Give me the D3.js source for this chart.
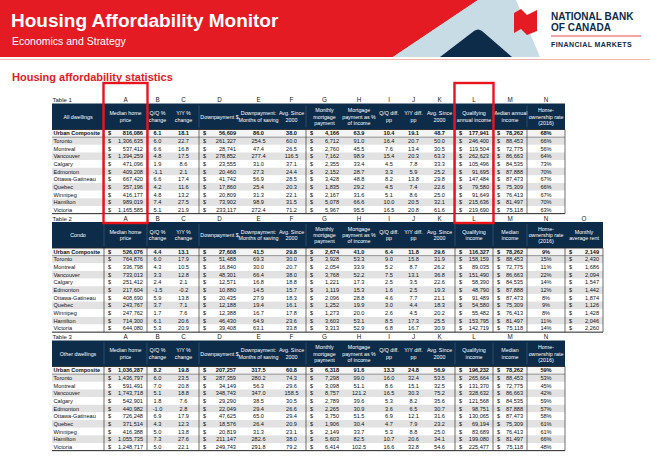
<!DOCTYPE html>
<html><head><meta charset="utf-8">
<script src="https://cdn.jsdelivr.net/npm/d3@7"></script>
<style>
body{margin:0;background:#fff;}
svg{display:block;font-family:"Liberation Sans",Arial,sans-serif;}
</style>
</head><body>
<script>
// ---------- DATA ----------
const cities = ["Urban Composite","Toronto","Montreal","Vancouver","Calgary","Edmonton","Ottawa-Gatineau","Quebec","Winnipeg","Hamilton","Victoria"];
const colLetters = ["A","B","C","D","E","F","G","H","I","J","K","L","M","N","O"];
const tableTitles = ["Table 1","Table 2","Table 3"];
const tableNames = ["All dwellings","Condo","Other dwellings"];
const headA = ["Median home","price"];
const headB = ["Q/Q %","change"];
const headC = ["Y/Y %","change"];
const headD = ["Downpayment $"];
const headE = ["Downpayment:","Months of saving"];
const headF = ["Avg. Since","2000"];
const headG = ["Monthly","mortgage","payment"];
const headH = ["Mortgage","payment as %","of income"];
const headI = ["Q/Q diff.","pp"];
const headJ = ["Y/Y diff.","pp"];
const headK = ["Avg. Since","2000"];
const headL1 = ["Qualifying","annual income"];
const headL = ["Qualifying","income"];
const headM1 = ["Median annual","income"];
const headM = ["Median","income"];
const headN = ["Home-","ownership rate","(2016)"];
const headO = ["Monthly","average rent"];

// Table 1 – all dwellings
const allPrice = [816086,1306635,537412,1394259,471096,409208,667420,357196,416177,989019,1165585];
const allQQ = [6.1,6.0,6.6,4.8,1.9,-1.1,6.6,4.2,4.8,7.4,5.1];
const allYY = [18.1,22.7,16.8,17.5,8.6,2.1,17.4,11.6,13.2,27.5,21.9];
const allDown = [56609,261327,28741,278852,23555,20460,41742,17860,20809,73902,233117];
const allMonths = [86.0,254.5,47.4,277.4,31.0,27.3,56.9,25.4,31.3,98.9,272.4];
const allMonthsAvg = [38.0,60.0,26.5,116.5,37.1,24.4,28.5,20.3,22.1,31.5,71.2];
const allPay = [4166,6712,2760,7162,2355,2152,3428,1835,2167,5078,5967];
const allShare = [63.9,91.0,45.5,98.9,33.4,28.7,48.8,29.2,31.6,66.6,95.5];
const allQQpp = [10.4,16.4,7.6,15.4,4.5,3.3,8.2,4.5,5.1,10.0,16.5];
const allYYpp = [19.1,20.7,13.4,20.3,7.8,5.9,13.8,7.4,8.6,20.5,20.8];
const allShareAvg = [48.7,50.0,30.5,63.3,33.3,25.2,29.8,22.6,25.0,32.1,61.6];
const allQualInc = [177941,246400,119504,262623,105496,91695,147484,79580,91649,215636,219690];
const allInc = [78262,88453,72775,86663,84535,87888,87473,75309,76413,81497,75118];
const allOwn = [68,66,56,64,73,70,67,66,67,70,63];

// Table 2 – condo
const condoPrice = [526076,764876,336798,733013,251412,217604,408690,243767,247762,714300,644080];
const condoQQ = [4.4,6.0,4.3,3.3,2.4,-1.5,5.9,3.7,1.7,6.1,5.3];
const condoYY = [13.1,17.9,10.5,12.8,2.1,-0.2,13.8,7.1,7.6,20.6,20.9];
const condoDown = [27608,51488,16840,48301,12571,10880,20435,12188,12388,46430,39408];
const condoMonths = [41.5,69.3,30.0,66.4,16.8,14.5,27.9,19.4,16.7,64.9,63.1];
const condoMonthsAvg = [29.8,30.0,20.7,38.0,18.8,15.7,18.3,16.1,17.8,23.6,33.8];
const condoPay = [2674,3928,2054,3768,1221,1119,2096,1252,1273,3603,3313];
const condoShare = [41.0,53.3,33.9,52.2,17.3,15.3,28.8,19.9,20.0,53.1,52.9];
const condoQQpp = [6.4,9.0,5.2,7.5,2.5,1.6,4.6,3.0,2.6,8.5,6.8];
const condoYYpp = [11.8,15.8,8.7,13.1,3.5,2.5,7.7,4.4,4.5,17.3,16.7];
const condoShareAvg = [29.6,31.9,26.2,36.8,22.6,19.3,21.1,18.3,20.2,25.5,30.9];
const condoQualInc = [116327,158159,89035,151490,58390,48790,91489,54580,55482,153795,142719];
const condoInc = [78262,88453,72775,86663,84535,87888,87473,75309,76413,81497,75118];
const condoOwn = [9,15,11,22,14,12,8,9,8,11,14];
const condoRent = [2149,2430,1686,2094,1547,1442,1874,1126,1428,2046,2260];

// Table 3 – other dwellings
const otherPrice = [1036287,1436797,591491,1743718,542901,440982,726248,371514,416388,1055735,1248717];
const otherQQ = [8.2,6.0,7.0,5.1,1.8,-1.0,6.9,4.3,5.0,7.3,5.0];
const otherYY = [19.8,23.5,20.8,18.8,7.6,2.8,17.9,12.3,13.8,27.6,22.1];
const otherDown = [207257,287359,34149,348743,29290,22049,47625,18576,20819,211147,249743];
const otherMonths = [317.5,280.2,56.3,347.0,38.5,29.4,65.0,26.4,31.3,282.6,291.8];
const otherMonthsAvg = [60.8,74.3,29.6,158.5,30.5,26.6,29.4,20.9,23.1,38.0,79.2];
const otherPay = [6318,7298,3098,8757,2789,2265,3750,1906,2149,5603,6414];
const otherShare = [91.6,99.0,51.1,121.2,39.6,30.9,51.5,30.4,33.7,82.5,102.5];
const otherQQpp = [13.3,16.0,8.6,16.5,5.3,3.6,6.9,4.7,5.3,10.7,16.6];
const otherYYpp = [24.8,32.4,15.1,30.3,8.2,6.5,12.1,7.9,8.8,20.6,32.8];
const otherShareAvg = [56.9,53.5,32.5,75.2,35.6,30.7,31.6,23.2,25.0,34.1,54.6];
const otherQualInc = [196232,265664,131370,328632,121568,98751,130065,69194,83689,199080,225477];
const otherInc = [78262,88453,72775,86663,84535,87888,87473,75309,76413,81497,75118];
const otherOwn = [59,53,45,42,59,57,58,61,61,66,48];

// ---------- LAYOUT ----------
const W = 650, H = 459;
const RED = "#e41b23", NAVY = "#0d2c4a", LBLUE = "#c8dce6";
const loc = d3.formatLocale({decimal:".",thousands:",",grouping:[3],currency:["$",""],minus:"-"});
const fInt = loc.format(","), fDec = loc.format(".1f");
const fPct = v => v + "%";

const svg = d3.select("body").append("svg").attr("width",W).attr("height",H);
svg.append("rect").attr("width",W).attr("height",H).attr("fill","#fff");

// Banner
svg.append("polygon").attr("points","0,0 478,0 393,57 0,57").attr("fill",RED);
svg.append("polygon").attr("points","478,0 516,0 540,57 393,57").attr("fill",LBLUE);
svg.append("path").attr("d","M440,57 L474,31 Q478,28 482,31 L512,57 Z").attr("fill",NAVY);
svg.append("line").attr("x1",0).attr("x2",W).attr("y1",59.5).attr("y2",59.5).attr("stroke","#f3b3b3").attr("stroke-width",1);
svg.append("text").attr("x",11).attr("y",27).attr("fill","#fff").attr("font-size",19).attr("font-weight","bold").text("Housing Affordability Monitor");
svg.append("text").attr("x",12).attr("y",45).attr("fill","#fff").attr("font-size",10.5).text("Economics and Strategy");
// logo
svg.append("path").attr("d","M514,13 L521,9 L527,15 L537,10 L537,31 L527,35 L521,29 L514,33 Z").attr("fill",RED);
svg.append("text").attr("x",551).attr("y",20).attr("fill",NAVY).attr("font-size",10).attr("font-weight","bold").text("NATIONAL BANK");
svg.append("text").attr("x",551).attr("y",31).attr("fill",NAVY).attr("font-size",10).attr("font-weight","bold").text("OF CANADA");
svg.append("line").attr("x1",551).attr("x2",641).attr("y1",36).attr("y2",36).attr("stroke",RED).attr("stroke-width",0.8);
svg.append("text").attr("x",551).attr("y",47).attr("fill",NAVY).attr("font-size",7).attr("font-weight","bold").attr("letter-spacing",0.4).text("FINANCIAL MARKETS");

svg.append("text").attr("x",12).attr("y",81).attr("fill",RED).attr("font-size",11).attr("font-weight","bold").text("Housing affordability statistics");

// columns
const colKeys = ["label"].concat(colLetters);
const colEdges = [52,104,147,168,199,240,277,306,343,375,403,424,455,493,527,565,603];
const xL = d3.scaleOrdinal(colKeys, colEdges.slice(0,-1));
const xR = d3.scaleOrdinal(colKeys, colEdges.slice(1));
const xC = k => (xL(k)+xR(k))/2;
const dollarCols = new Set(["A","D","G","L","M","O"]);
const intCols = new Set(["A","D","G","L","M","O"]);
const bodyLines = ["A","B","D","G","L","M","N"];

const tables = [
  {title:tableTitles[0], name:tableNames[0], labelY:100,
   heads:[headA,headB,headC,headD,headE,headF,headG,headH,headI,headJ,headK,headL1,headM1,headN],
   series:[allPrice,allQQ,allYY,allDown,allMonths,allMonthsAvg,allPay,allShare,allQQpp,allYYpp,allShareAvg,allQualInc,allInc,allOwn]},
  {title:tableTitles[1], name:tableNames[1], labelY:218.5,
   heads:[headA,headB,headC,headD,headE,headF,headG,headH,headI,headJ,headK,headL,headM,headN,headO],
   series:[condoPrice,condoQQ,condoYY,condoDown,condoMonths,condoMonthsAvg,condoPay,condoShare,condoQQpp,condoYYpp,condoShareAvg,condoQualInc,condoInc,condoOwn,condoRent]},
  {title:tableTitles[2], name:tableNames[2], labelY:337,
   heads:[headA,headB,headC,headD,headE,headF,headG,headH,headI,headJ,headK,headL,headM,headN],
   series:[otherPrice,otherQQ,otherYY,otherDown,otherMonths,otherMonthsAvg,otherPay,otherShare,otherQQpp,otherYYpp,otherShareAvg,otherQualInc,otherInc,otherOwn]}
];

const rowH = 7.65, hdrH = 26;
tables.forEach(t => {
  const g = svg.append("g");
  const keys = colLetters.slice(0, t.series.length);
  const x0 = colEdges[0], x1 = xR(keys[keys.length-1]);
  const headTop = t.labelY + 3.5, bodyTop = headTop + hdrH;
  const y = d3.scaleBand().domain(cities).range([bodyTop, bodyTop + rowH*cities.length]);

  g.append("text").attr("x",x0+0.5).attr("y",t.labelY+2.2).attr("font-size",6).attr("fill","#222").text(t.title);
  g.selectAll("text.letter").data(keys).join("text").attr("class","letter")
    .attr("x",d=>xC(d)).attr("y",t.labelY+2.2).attr("text-anchor","middle").attr("font-size",6.3).attr("fill","#222").text(d=>d);

  g.append("rect").attr("x",x0).attr("y",headTop).attr("width",x1-x0).attr("height",hdrH).attr("fill",NAVY);
  const heads = [["label",[t.name]]].concat(keys.map((k,i)=>[k,t.heads[i]]));
  heads.forEach(([k,lines]) => {
    const lh = 6.4, cy = headTop + hdrH/2 - (lines.length-1)*lh/2 + 2;
    const tx = g.append("text").attr("text-anchor","middle").attr("font-size",5.3).attr("fill","#fff");
    lines.forEach((s,j)=>tx.append("tspan").attr("x",xC(k)).attr("y",cy+j*lh).text(s));
  });
  g.selectAll("line.hsep").data(bodyLines.filter(k=>keys.includes(k))).join("line").attr("class","hsep")
    .attr("x1",d=>xL(d)).attr("x2",d=>xL(d)).attr("y1",headTop+2).attr("y2",headTop+hdrH-2)
    .attr("stroke","#4f6a86").attr("stroke-width",0.5);

  g.selectAll("rect.row").data(cities).join("rect").attr("class","row")
    .attr("x",x0).attr("y",d=>y(d)).attr("width",x1-x0).attr("height",y.bandwidth())
    .attr("fill",(d,i)=> i===0 ? "#f4f4f4" : (i%2===1 ? "#e2e2e2" : "#ffffff"));

  g.append("line").attr("x1",x0).attr("x2",x1).attr("y1",bodyTop).attr("y2",bodyTop).attr("stroke","#222").attr("stroke-width",0.9);
  g.append("line").attr("x1",x0).attr("x2",x1).attr("y1",bodyTop+rowH).attr("y2",bodyTop+rowH).attr("stroke","#555").attr("stroke-width",0.6);
  g.append("line").attr("x1",x0).attr("x2",x1).attr("y1",y.range()[1]).attr("y2",y.range()[1]).attr("stroke","#222").attr("stroke-width",1);
  const vl = bodyLines.filter(k=>keys.includes(k)).map(k=>xL(k)).concat([x1]);
  if (keys.includes("O")) vl.push(xL("O"));
  g.selectAll("line.vsep").data(vl).join("line").attr("class","vsep")
    .attr("x1",d=>d).attr("x2",d=>d).attr("y1",bodyTop).attr("y2",y.range()[1])
    .attr("stroke","#333").attr("stroke-width",0.7);

  g.selectAll("text.city").data(cities).join("text").attr("class","city")
    .attr("x",x0+1.5).attr("y",d=>y(d)+y.bandwidth()/2+2).attr("font-size",5.6)
    .attr("font-weight",(d,i)=>i===0?"bold":"normal").attr("fill","#111").text(d=>d);

  keys.forEach((k,ci) => {
    const vals = t.series[ci];
    const fmt = intCols.has(k) ? fInt : (k==="N" ? fPct : fDec);
    const cells = g.selectAll("g.c"+k).data(cities).join("g").attr("class","c"+k);
    if (dollarCols.has(k)) {
      cells.append("text").attr("x",xL(k)+4).attr("y",d=>y(d)+y.bandwidth()/2+2).attr("font-size",5.6)
        .attr("font-weight",(d,i)=>i===0?"bold":"normal").attr("fill","#111").text("$");
      cells.append("text").attr("x",xR(k)-4).attr("y",d=>y(d)+y.bandwidth()/2+2).attr("text-anchor","end").attr("font-size",5.6)
        .attr("font-weight",(d,i)=>i===0?"bold":"normal").attr("fill","#111").text((d,i)=>fmt(vals[i]));
    } else {
      cells.append("text").attr("x",xC(k)).attr("y",d=>y(d)+y.bandwidth()/2+2).attr("text-anchor","middle").attr("font-size",5.6)
        .attr("font-weight",(d,i)=>i===0?"bold":"normal").attr("fill","#111").text((d,i)=>fmt(vals[i]));
    }
  });
});

["A","L"].forEach(k => {
  svg.append("rect").attr("x",xL(k)-0.5).attr("y",83).attr("width",xR(k)-xL(k)+1).attr("height",140)
    .attr("fill","none").attr("stroke","#e8141c").attr("stroke-width",2.4);
});
</script>
</body></html>
